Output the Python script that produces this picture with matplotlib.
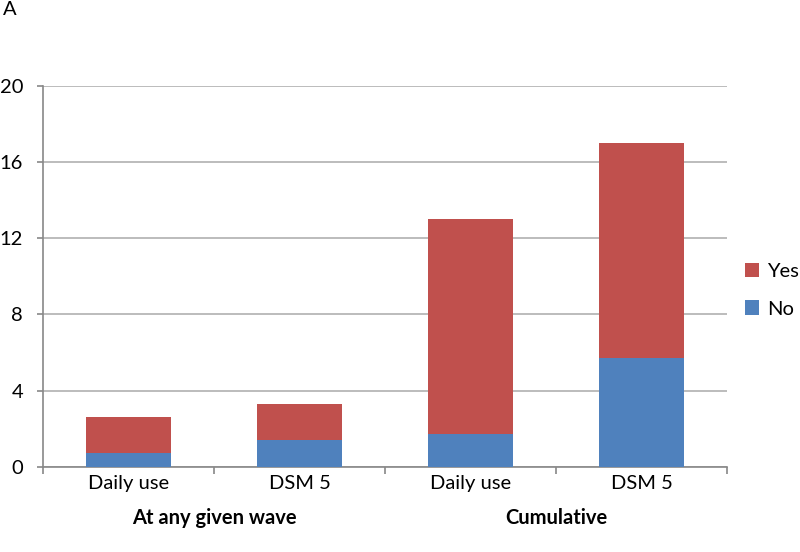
import matplotlib.pyplot as plt
import numpy as np

categories = ['Daily use', 'DSM 5', 'Daily use', 'DSM 5']
groups = ['At any given wave', 'Cumulative']
no_vals = [0.7, 1.4, 1.7, 5.7]
yes_vals = [1.9, 1.9, 11.3, 11.3]
yticks = [0, 4, 8, 12, 16, 20]

plt.rcParams['font.family'] = ['Lato', 'DejaVu Sans']

fig = plt.figure(figsize=(8, 5.52), dpi=100)
ax = fig.add_axes([0.054, 0.1545, 0.855, 0.6895])

x = np.arange(len(categories))
blue = '#4F81BD'
red = '#C0504D'
ax.bar(x, no_vals, width=0.5, color=blue, zorder=3, label='No')
ax.bar(x, yes_vals, width=0.5, bottom=no_vals, color=red, zorder=3, label='Yes')

ax.set_xlim(-0.5, len(categories) - 0.5)
ax.set_ylim(0, 20)
ax.set_yticks(yticks)
ax.yaxis.grid(True, color='#B0B0B0', linewidth=1.2, zorder=0)
ax.tick_params(axis='y', length=4.5, width=1.2, color='#888888', labelsize=14.5,
               pad=10, labelcolor='black')

# category labels, ticks between categories
ax.set_xticks(x)
ax.set_xticklabels(categories, fontsize=14.5)
ax.tick_params(axis='x', length=0, pad=6)
ax.set_xticks(np.arange(-0.5, len(categories), 1), minor=True)
ax.tick_params(axis='x', which='minor', length=5, width=1.2, color='#888888', direction='out')

for s in ['top', 'right']:
    ax.spines[s].set_visible(False)
ax.spines['left'].set_color('#888888')
ax.spines['bottom'].set_color('#888888')
ax.spines['left'].set_linewidth(1.2)
ax.spines['bottom'].set_linewidth(1.2)

# group labels
for i, g in enumerate(groups):
    ax.text(2 * i + 0.5, -0.135, g, transform=ax.get_xaxis_transform(),
            ha='center', va='center', fontsize=14.5, fontweight='bold')

fig.text(0.004, 0.982, 'A', fontsize=14.5, ha='left', va='center')

h, l = ax.get_legend_handles_labels()
fig.legend(h[::-1], l[::-1], loc='center left', bbox_to_anchor=(0.914, 0.474),
           frameon=False, fontsize=14.5, handlelength=0.7, handleheight=0.7,
           labelspacing=1.0, handletextpad=0.4, borderpad=0.2)

fig.savefig('out.png', dpi=100)
